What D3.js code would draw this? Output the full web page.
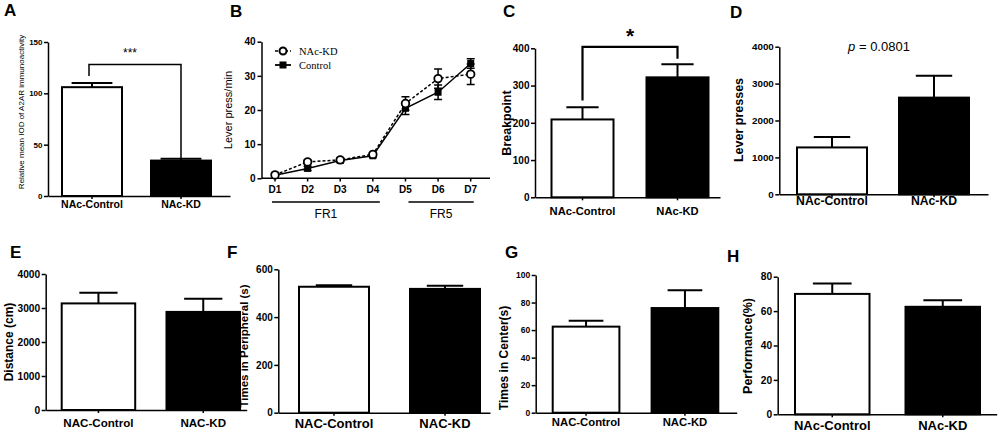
<!DOCTYPE html>
<html>
<head>
<meta charset="utf-8">
<script src="https://cdn.jsdelivr.net/npm/d3@7"></script>
<style>
body { margin: 0; background: #fff; }
svg text { font-family: "Liberation Sans", Arial, sans-serif; fill: #000; }
</style>
</head>
<body>
<div id="fig"></div>
<script>
// group names
var groupsAc = ["NAc-Control", "NAc-KD"];
var groupsAC = ["NAC-Control", "NAC-KD"];

// bar panels: mean and SEM per group
var iodMean = [106, 34.5], iodSem = [4, 1.8];
var breakMean = [209, 322], breakSem = [33, 35];
var pressMean = [1270, 2620], pressSem = [280, 590];
var distMean = [3135, 2885], distSem = [310, 385];
var periMean = [527, 518], periSem = [6, 13];
var centerMean = [62.5, 76], centerSem = [4.2, 13];
var perfMean = [70, 62.5], perfSem = [6, 3.8];

// tick labels
var ticksA = [0, 50, 100, 150];
var ticksB = [0, 10, 20, 30, 40];
var ticksC = [0, 100, 200, 300, 400];
var ticksD = [0, 1000, 2000, 3000, 4000];
var ticksE = [0, 1000, 2000, 3000, 4000];
var ticksF = [0, 200, 400, 600];
var ticksG = [0, 20, 40, 60, 80, 100];
var ticksH = [0, 20, 40, 60, 80];

// panel B: lever press per day
var days = ["D1", "D2", "D3", "D4", "D5", "D6", "D7"];
var kdPress = [1.0, 4.8, 5.4, 7.0, 21.9, 29.2, 30.5];
var kdSem = [0.3, 0.5, 0.5, 0.4, 2.0, 2.8, 3.0];
var ctrlPress = [0.9, 2.9, 5.2, 6.6, 20.5, 25.2, 33.6];
var ctrlSem = [0.3, 0.6, 0.5, 0.4, 1.8, 2.1, 1.4];
var schedules = ["FR1", "FR5"];
var scheduleDays = [["D1", "D4"], ["D5", "D7"]];

var svg = d3.select("#fig").append("svg")
    .attr("width", 1000)
    .attr("height", 432);

function letter(t, x, y) {
    svg.append("text").attr("x", x).attr("y", y)
        .style("font-size", "17px").style("font-weight", "bold").text(t);
}

// band scale that puts the two bars where they sit in the figure
function bandFor(cats, x0, x1, b0, bw, bEnd) {
    var step = bEnd - bw - b0;
    var pi = 1 - bw / step;
    var W = x1 - x0;
    var po = (W / step - cats.length + pi) / 2;
    var al = (b0 - x0) / (W - step * (cats.length - pi));
    return d3.scaleBand().domain(cats).range([x0, x1])
        .paddingInner(pi).paddingOuter(po).align(al);
}

function styleY(ax, size) {
    ax.selectAll("text").style("font-size", size + "px").style("font-weight", "bold")
        .style("font-family", "'Liberation Sans', Arial, sans-serif").attr("fill", "#000");
    ax.selectAll("line,path").attr("stroke-width", 1.5).attr("stroke", "#000");
}

function barPanel(o) {
    var g = svg.append("g");
    var x = bandFor(o.cats, o.x0, o.x1, o.b0, o.bw, o.bEnd);
    var y = d3.scaleLinear().domain([0, o.ticks[o.ticks.length - 1]]).range([o.y0, o.y1]);

    // error bars (upper half only)
    var capW = x.bandwidth() * (o.cap || 0.52);
    o.cats.forEach(function(c, i) {
        var cx = x(c) + x.bandwidth() / 2;
        g.append("line").attr("x1", cx).attr("x2", cx)
            .attr("y1", y(o.mean[i])).attr("y2", y(o.mean[i] + o.sem[i]))
            .attr("stroke", "#000").attr("stroke-width", 2);
        g.append("line").attr("x1", cx - capW / 2).attr("x2", cx + capW / 2)
            .attr("y1", y(o.mean[i] + o.sem[i])).attr("y2", y(o.mean[i] + o.sem[i]))
            .attr("stroke", "#000").attr("stroke-width", 2);
    });

    g.selectAll("rect.bar")
        .data(o.mean)
        .enter().append("rect")
            .attr("class", "bar")
            .attr("x", function(d, i) { return x(o.cats[i]); })
            .attr("y", function(d) { return y(d); })
            .attr("width", x.bandwidth())
            .attr("height", function(d) { return o.y0 - y(d); })
            .style("fill", function(d, i) { return i == 0 ? "#fff" : "#000"; })
            .style("stroke", "#000")
            .style("stroke-width", 2);

    var ya = g.append("g").attr("transform", "translate(" + o.x0 + ",0)")
        .call(d3.axisLeft(y).tickValues(o.ticks).tickFormat(d3.format("d"))
            .tickSize(4).tickSizeOuter(0).tickPadding(1.5));
    styleY(ya, o.tickSize);

    var xa = g.append("g").attr("transform", "translate(0," + o.y0 + ")")
        .call(d3.axisBottom(x).tickSize(3).tickSizeOuter(0).tickPadding(2));
    xa.selectAll("text").remove();
    xa.selectAll("line,path").attr("stroke-width", 1.5).attr("stroke", "#000");

    g.selectAll("text.xl")
        .data(o.cats)
        .enter().append("text")
            .attr("class", "xl")
            .attr("x", function(d) { return x(d) + x.bandwidth() / 2; })
            .attr("y", o.labelY)
            .attr("text-anchor", "middle")
            .style("font-size", o.labelSize + "px")
            .style("font-weight", "bold")
            .text(function(d) { return d; });

    g.append("text")
        .attr("transform", "translate(" + o.ylx + "," + o.yly + ") rotate(-90)")
        .attr("text-anchor", "middle")
        .attr("dominant-baseline", "middle")
        .style("font-size", o.ylSize + "px")
        .style("font-weight", o.ylWeight || "bold")
        .text(o.ylabel);

    return { x: x, y: y, g: g };
}

// A
letter("A", 4, 16);
var pA = barPanel({ cats: groupsAc, mean: iodMean, sem: iodSem, ticks: ticksA,
    x0: 48, x1: 230, y0: 196, y1: 42, b0: 62, bw: 60, bEnd: 211, cap: 0.68,
    tickSize: 8, labelY: 208, labelSize: 10.5,
    ylabel: "Relative mean IOD of A2AR immunoactivity", ylx: 22, yly: 112, ylSize: 8, ylWeight: "normal" });
(function() {
    var c1 = pA.x(groupsAc[0]) + pA.x.bandwidth() / 2 - 3;
    var c2 = pA.x(groupsAc[1]) + pA.x.bandwidth() / 2;
    pA.g.append("path")
        .attr("d", "M" + c1 + "," + pA.y(117) + "V" + pA.y(128) + "H" + c2 + "V" + pA.y(36.3))
        .attr("fill", "none").attr("stroke", "#000").attr("stroke-width", 1.5);
    pA.g.append("text").attr("x", (c1 + c2) / 2 - 5).attr("y", 57)
        .attr("text-anchor", "middle").style("font-size", "12px").text("***");
})();

// C
letter("C", 503, 17);
var pC = barPanel({ cats: groupsAc, mean: breakMean, sem: breakSem, ticks: ticksC,
    x0: 535, x1: 720, y0: 197.3, y1: 48.3, b0: 551.5, bw: 62, bEnd: 708.5,
    tickSize: 10, labelY: 215, labelSize: 11.2,
    ylabel: "Breakpoint", ylx: 508, yly: 123, ylSize: 12.5 });
(function() {
    var c1 = pC.x(groupsAc[0]) + pC.x.bandwidth() / 2;
    var c2 = pC.x(groupsAc[1]) + pC.x.bandwidth() / 2;
    pC.g.append("path")
        .attr("d", "M" + c1 + "," + pC.y(260) + "V" + pC.y(404) + "H" + c2 + "V" + pC.y(372))
        .attr("fill", "none").attr("stroke", "#000").attr("stroke-width", 2.2);
    pC.g.append("text").attr("x", (c1 + c2) / 2).attr("y", 43)
        .attr("text-anchor", "middle").style("font-size", "21px").style("font-weight", "bold").text("*");
})();

// D
letter("D", 730, 18);
var pD = barPanel({ cats: groupsAc, mean: pressMean, sem: pressSem, ticks: ticksD,
    x0: 779.3, x1: 988, y0: 194.3, y1: 46.7, b0: 797, bw: 70, bEnd: 969,
    tickSize: 9.8, labelY: 205, labelSize: 12.2,
    ylabel: "Lever presses", ylx: 740, yly: 120, ylSize: 12.5 });
(function() {
    var t = pD.g.append("text").attr("x", 879).attr("y", 51)
        .attr("text-anchor", "middle").style("font-size", "13px");
    t.append("tspan").style("font-style", "italic").text("p");
    t.append("tspan").text(" = 0.0801");
})();

// E
letter("E", 10, 258);
barPanel({ cats: groupsAC, mean: distMean, sem: distSem, ticks: ticksE,
    x0: 45.7, x1: 246.7, y0: 410, y1: 274, b0: 61.7, bw: 73.5, bEnd: 240,
    tickSize: 10.2, labelY: 427, labelSize: 11.6,
    ylabel: "Distance (cm)", ylx: 10, yly: 342, ylSize: 12 });

// F
letter("F", 227, 258);
barPanel({ cats: groupsAC, mean: periMean, sem: periSem, ticks: ticksF,
    x0: 278.3, x1: 490, y0: 412.7, y1: 269.3, b0: 299, bw: 70, bEnd: 480,
    tickSize: 10, labelY: 428, labelSize: 13,
    ylabel: "Times in Peripheral (s)", ylx: 245, yly: 346, ylSize: 11.5 });

// G
letter("G", 505, 258);
barPanel({ cats: groupsAC, mean: centerMean, sem: centerSem, ticks: ticksG,
    x0: 535.7, x1: 736.7, y0: 412.7, y1: 275, b0: 552.7, bw: 66.7, bEnd: 718.3,
    tickSize: 8.5, labelY: 425.5, labelSize: 11.3,
    ylabel: "Times in Center(s)", ylx: 505, yly: 358, ylSize: 12 });

// H
letter("H", 727, 262);
barPanel({ cats: groupsAc, mean: perfMean, sem: perfSem, ticks: ticksH,
    x0: 777.7, x1: 996.7, y0: 414.3, y1: 276.7, b0: 795, bw: 74.5, bEnd: 980,
    tickSize: 10.2, labelY: 429.5, labelSize: 13,
    ylabel: "Performance(%)", ylx: 749, yly: 346, ylSize: 12.5 });

// B: line chart
letter("B", 230, 17);
(function() {
    var g = svg.append("g");
    var x = d3.scalePoint().domain(days).range([275, 470.7]);
    var y = d3.scaleLinear().domain([0, 40]).range([178.3, 41.7]);

    var ya = g.append("g").attr("transform", "translate(261.5,0)")
        .call(d3.axisLeft(y).tickValues(ticksB).tickSize(4).tickSizeOuter(0).tickPadding(2));
    styleY(ya, 10);

    g.append("line").attr("x1", 261.5).attr("x2", 490).attr("y1", 178.3).attr("y2", 178.3)
        .attr("stroke", "#000").attr("stroke-width", 1.5);
    g.selectAll("line.xt").data(days).enter().append("line")
        .attr("class", "xt")
        .attr("x1", function(d) { return x(d); }).attr("x2", function(d) { return x(d); })
        .attr("y1", 178.3).attr("y2", 181.5)
        .attr("stroke", "#000").attr("stroke-width", 1.5);
    g.selectAll("text.xl").data(days).enter().append("text")
        .attr("class", "xl")
        .attr("x", function(d) { return x(d); }).attr("y", 193)
        .attr("text-anchor", "middle")
        .style("font-size", "10px").style("font-weight", "bold")
        .text(function(d) { return d; });

    // schedule bars below the axis
    schedules.forEach(function(s, i) {
        var a = x(scheduleDays[i][0]) + (i == 0 ? -3 : 3);
        var b = x(scheduleDays[i][1]) + (i == 0 ? 7 : 3);
        g.append("line").attr("x1", a).attr("x2", b).attr("y1", 202).attr("y2", 202)
            .attr("stroke", "#000").attr("stroke-width", 1.5);
        g.append("text").attr("x", (a + b) / 2).attr("y", 218)
            .attr("text-anchor", "middle").style("font-size", "12px").text(s);
    });

    g.append("text")
        .attr("transform", "translate(229,110) rotate(-90)")
        .attr("text-anchor", "middle").attr("dominant-baseline", "middle")
        .style("font-size", "11px").text("Lever press/min");

    var line = d3.line()
        .x(function(d, i) { return x(days[i]); })
        .y(function(d) { return y(d); });

    g.append("path").datum(ctrlPress).attr("d", line)
        .attr("fill", "none").attr("stroke", "#000").attr("stroke-width", 1.5);
    g.append("path").datum(kdPress).attr("d", line)
        .attr("fill", "none").attr("stroke", "#000").attr("stroke-width", 1.5)
        .attr("stroke-dasharray", "3,2");

    function errs(vals, sems) {
        vals.forEach(function(v, i) {
            var cx = x(days[i]);
            g.append("path")
                .attr("d", "M" + (cx - 4) + "," + y(v + sems[i]) + "H" + (cx + 4) +
                    "M" + cx + "," + y(v + sems[i]) + "V" + y(v - sems[i]) +
                    "M" + (cx - 4) + "," + y(v - sems[i]) + "H" + (cx + 4))
                .attr("fill", "none").attr("stroke", "#000").attr("stroke-width", 1.5);
        });
    }
    errs(ctrlPress, ctrlSem);
    errs(kdPress, kdSem);

    g.selectAll("rect.mk").data(ctrlPress).enter().append("rect")
        .attr("class", "mk")
        .attr("x", function(d, i) { return x(days[i]) - 3.5; })
        .attr("y", function(d) { return y(d) - 3.5; })
        .attr("width", 7).attr("height", 7)
        .style("fill", "#000");
    g.selectAll("circle.mk").data(kdPress).enter().append("circle")
        .attr("class", "mk")
        .attr("cx", function(d, i) { return x(days[i]); })
        .attr("cy", function(d) { return y(d); })
        .attr("r", 3.8)
        .style("fill", "#fff").style("stroke", "#000").style("stroke-width", 1.8);

    // legend
    g.append("path").attr("d", "M275,51H291").attr("stroke", "#000").attr("stroke-width", 1.5)
        .attr("stroke-dasharray", "3,2");
    g.append("circle").attr("cx", 283).attr("cy", 51).attr("r", 3.5)
        .style("fill", "#fff").style("stroke", "#000").style("stroke-width", 2);
    g.append("path").attr("d", "M275,65H291").attr("stroke", "#000").attr("stroke-width", 1.8);
    g.append("rect").attr("x", 279.5).attr("y", 61.5).attr("width", 7).attr("height", 7).style("fill", "#000");
    g.append("text").attr("x", 299).attr("y", 54.5)
        .style("font-family", "'Liberation Serif', 'Times New Roman', serif").style("font-size", "10.5px").text("NAc-KD");
    g.append("text").attr("x", 299).attr("y", 68.5)
        .style("font-family", "'Liberation Serif', 'Times New Roman', serif").style("font-size", "10.5px").text("Control");
})();
</script>
</body>
</html>
